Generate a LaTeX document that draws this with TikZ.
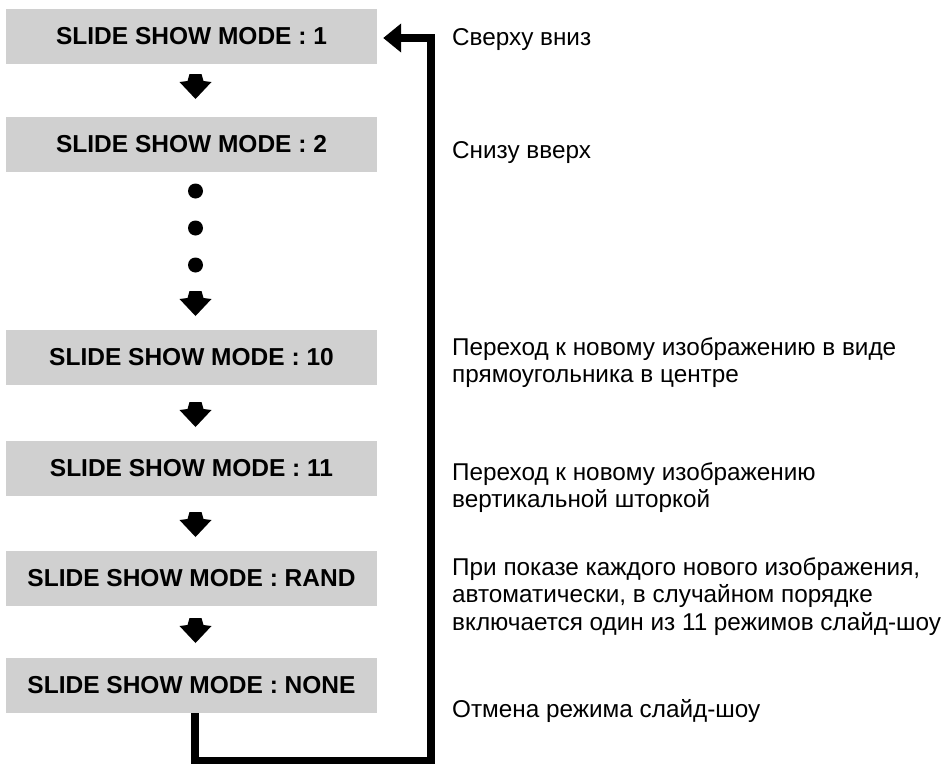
\documentclass[tikz,border=0pt]{standalone}
\usepackage{fontspec}
\setmainfont{Liberation Sans}
\usetikzlibrary{arrows.meta}
\definecolor{boxgray}{RGB}{208,208,208}
\tikzset{
  modebox/.style={fill=boxgray, draw=none, minimum width=371pt, minimum height=55pt, inner sep=0pt,
    font=\fontsize{24.5}{28}\selectfont\bfseries},
  desc/.style={anchor=base west, inner sep=0pt, font=\fontsize{24.3}{28}\selectfont},
  loopline/.style={line width=8pt, line join=miter, -{Triangle[length=18pt,width=28pt]}},
  dotmark/.style={circle, fill=black, minimum size=15pt, inner sep=0pt},
  darrow/.pic={\fill (-6,0) -- (6,0) -- (8,7) -- (16,8) -- (0,25) -- (-16,8) -- (-8,7) -- cycle;}
}
\begin{document}
\begin{tikzpicture}[x=1pt,y=-1pt]
\useasboundingbox (0,0) rectangle (945,763);
% boxes
\node[modebox] (b1) at (191.5,36.5) {SLIDE SHOW MODE : 1};
\node[modebox] (b2) at (191.5,144) {SLIDE SHOW MODE : 2};
\node[modebox] (b10) at (191.5,357.5) {SLIDE SHOW MODE : 10};
\node[modebox] (b11) at (191.5,468.5) {SLIDE SHOW MODE : 11};
\node[modebox] (brand) at (191.5,578) {SLIDE SHOW MODE : RAND};
\node[modebox] (bnone) at (191.5,685.5) {SLIDE SHOW MODE : NONE};
% small down arrows
\pic at (195.5,74) {darrow};
\pic at (195.5,291) {darrow};
\pic at (195.5,402) {darrow};
\pic at (195.5,512) {darrow};
\pic at (195.5,618) {darrow};
% dots
\node[dotmark] (d1) at (195.5,191) {};
\node[dotmark] (d2) at (195.5,228) {};
\node[dotmark] (d3) at (195.5,265) {};
% loop connector
\coordinate (lb) at (431,761);
\draw[loopline] ([xshift=3.5pt]bnone.south) |- (lb) |- ([xshift=6pt,yshift=-1.5pt]b1.east);
% descriptions
\node[desc] (t1) at (452,45) {Сверху вниз};
\node[desc] (t2) at (452,158) {Снизу вверх};
\node[desc] (t3a) at (452,355) {Переход к новому изображению в виде};
\node[desc] (t3b) at (452,382) {прямоугольника в центре};
\node[desc] (t4a) at (452,480) {Переход к новому изображению};
\node[desc] (t4b) at (452,507) {вертикальной шторкой};
\node[desc] (t5a) at (452,575) {При показе каждого нового изображения,};
\node[desc] (t5b) at (452,602.5) {автоматически, в случайном порядке};
\node[desc] (t5c) at (452,630) {включается один из 11 режимов слайд-шоу};
\node[desc] (t6) at (452,717) {Отмена режима слайд-шоу};
\end{tikzpicture}
\end{document}
